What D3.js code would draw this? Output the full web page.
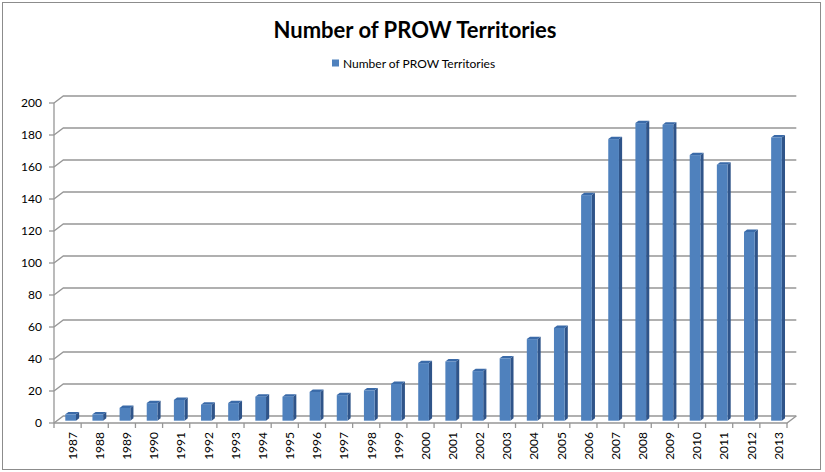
<!DOCTYPE html>
<html>
<head>
<meta charset="utf-8">
<script src="https://cdn.jsdelivr.net/npm/d3@7"></script>
<style>
  html, body { margin: 0; padding: 0; background: #fff; }
  svg { display: block; }
</style>
</head>
<body>
<svg id="chart" width="825" height="472"></svg>
<script>
const title = "Number of PROW Territories";
const seriesName = "Number of PROW Territories";
const years = ["1987","1988","1989","1990","1991","1992","1993","1994","1995","1996","1997","1998","1999","2000","2001","2002","2003","2004","2005","2006","2007","2008","2009","2010","2011","2012","2013"];
const values = [4,4,8,11,13,10,11,15,15,18,16,19,23,36,37,31,39,51,58,141,176,186,185,166,160,118,177];
const yTicks = [0,20,40,60,80,100,120,140,160,180,200];

const svg = d3.select("#chart");
const FONT = "Lato, 'Open Sans', sans-serif";

// 3D depth vector of the walls
const DX = 9.3, DY = -7;
const F1 = 0.33, F2 = 0.67; // bar front/back depth fractions

const x = d3.scaleBand().domain(years).range([54, 787]).padding(0);
const y = d3.scaleLinear().domain([0, 200]).range([423, 103]);

// outer border
svg.append("rect").attr("x", 2.5).attr("y", 2.5).attr("width", 818).attr("height", 467)
  .attr("fill", "#fff").attr("stroke", "#8c8c8c").attr("stroke-width", 1);

// title
svg.append("text").attr("x", 415).attr("y", 38).attr("text-anchor", "middle")
  .attr("font-family", FONT).attr("font-weight", "bold").attr("font-size", 22)
  .attr("fill", "#000").text(title);

// legend
svg.append("rect").attr("x", 332).attr("y", 59.5).attr("width", 7).attr("height", 7).attr("fill", "#4f81bd");
svg.append("text").attr("x", 343).attr("y", 67.5).attr("font-family", FONT).attr("font-size", 12)
  .attr("fill", "#000").text(seriesName);

const grid = svg.append("g").attr("stroke", "#969696").attr("stroke-width", 1.3).attr("fill", "none");
const [xL, xR] = x.range();
// back wall gridlines and side wall diagonals
yTicks.forEach(t => {
  const yy = y(t);
  grid.append("path").attr("d", `M${xL},${yy}L${xL + DX},${yy + DY}L${xR + DX},${yy + DY}`);
});
// floor front edge & right diagonal
grid.append("path").attr("d", `M${xL},${y(0)}L${xR},${y(0)}L${xR + DX},${y(0) + DY}`);
// vertical axis line
grid.append("path").attr("d", `M${xL},${y(200)}L${xL},${y(0)}`);

// y axis ticks & labels
const yAxis = svg.append("g");
yTicks.forEach(t => {
  yAxis.append("line").attr("x1", xL - 5).attr("x2", xL).attr("y1", y(t)).attr("y2", y(t))
    .attr("stroke", "#969696").attr("stroke-width", 1.3);
  yAxis.append("text").attr("x", 42).attr("y", y(t)).attr("dy", "0.36em").attr("text-anchor", "end")
    .attr("font-family", FONT).attr("font-size", 12).attr("fill", "#000").text(t);
});

// x axis ticks & labels
const xAxis = svg.append("g");
const bounds = years.map(d => x(d)).concat([xR]);
bounds.forEach(b => {
  xAxis.append("line").attr("x1", b).attr("x2", b).attr("y1", y(0)).attr("y2", y(0) + 5)
    .attr("stroke", "#969696").attr("stroke-width", 1.3);
});
years.forEach(d => {
  const cx = x(d) + x.bandwidth() / 2 + 5;
  xAxis.append("text").attr("transform", `translate(${cx},${y(0) + 9}) rotate(-90)`)
    .attr("dy", "0.36em").attr("text-anchor", "end")
    .attr("font-family", FONT).attr("font-size", 12).attr("fill", "#000").text(d);
});

// bars (3D)
const bw = x.bandwidth() * 0.394;
const ddx = (F2 - F1) * DX, ddy = (F2 - F1) * DY;
const bars = svg.append("g");
years.forEach((d, i) => {
  const v = values[i];
  const cx = x(d) + x.bandwidth() / 2 + F1 * DX;
  const x0 = cx - bw / 2, x1 = cx + bw / 2;
  const yT = y(v) + F1 * DY, yB = y(0) + F1 * DY;
  const g = bars.append("g");
  g.append("path").attr("d", `M${x1},${yB}L${x1},${yT}L${x1 + ddx},${yT + ddy}L${x1 + ddx},${yB + ddy}Z`)
    .attr("fill", "#2f5489");
  g.append("path").attr("d", `M${x0},${yT}L${x1},${yT}L${x1 + ddx},${yT + ddy}L${x0 + ddx},${yT + ddy}Z`)
    .attr("fill", "#3a6aa8");
  g.append("rect").attr("x", x0).attr("y", yT).attr("width", bw).attr("height", yB - yT)
    .attr("fill", "#4f81bd");
});
</script>
</body>
</html>
